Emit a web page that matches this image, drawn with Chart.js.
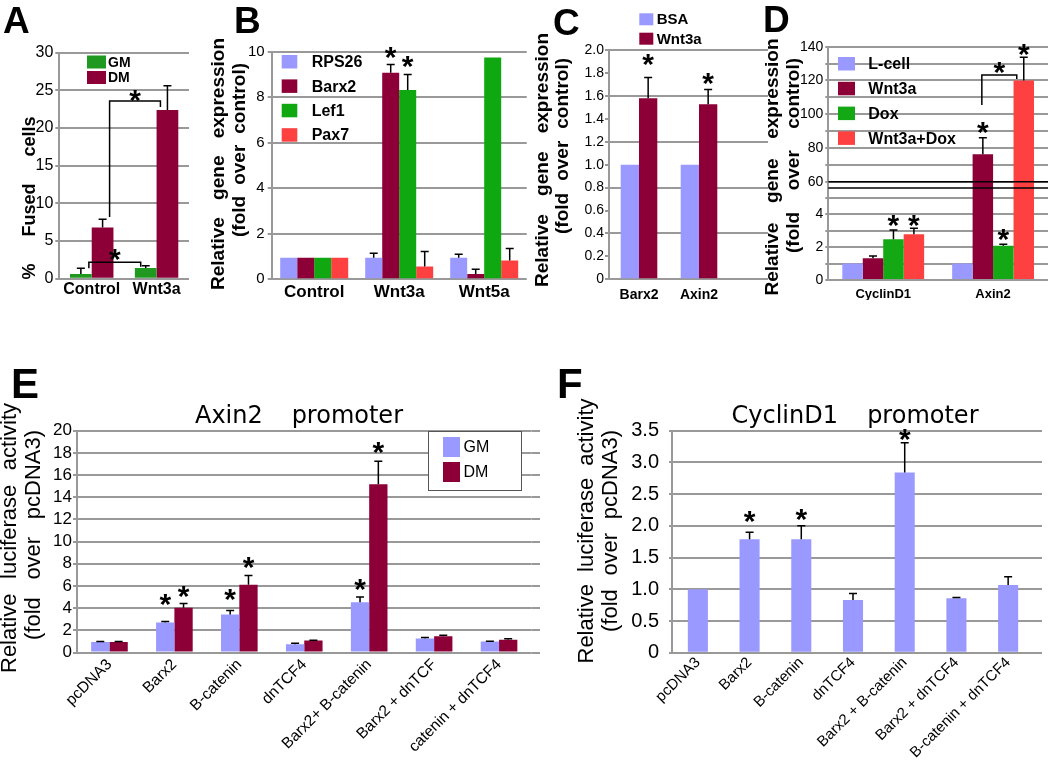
<!DOCTYPE html>
<html>
<head>
<meta charset="utf-8">
<title>Barx2 / Wnt figure</title>
<script src="https://cdn.jsdelivr.net/npm/chart.js@4.4.1/dist/chart.umd.min.js"></script>
<style>
  body { margin: 0; background: #fff; }
  #page { position: relative; width: 1050px; height: 766px; overflow: hidden; background: #fff; }
  #page canvas { position: absolute; left: 0; top: 0; }
</style>
</head>
<body>
<div id="page">
  <canvas id="chartA" width="1050" height="766"></canvas>
  <canvas id="chartB" width="1050" height="766"></canvas>
  <canvas id="chartC" width="1050" height="766"></canvas>
  <canvas id="chartDtop" width="1050" height="766"></canvas>
  <canvas id="chartDbot" width="1050" height="766"></canvas>
  <canvas id="chartE" width="1050" height="766"></canvas>
  <canvas id="chartF" width="1050" height="766"></canvas>
</div>
<script>
// ---- data ----
var aCats = ["Control", "Wnt3a"];
var aGM = [0.62, 1.42], aGMsd = [0.76, 0.3];
var aDM = [6.8, 22.4], aDMsd = [1.1, 3.2];

var bCats = ["Control", "Wnt3a", "Wnt5a"];
var bRPS26 = [0.95, 0.95, 0.95], bRPS26sd = [0, 0.19, 0.15];
var bBarx2 = [0.95, 9.08, 0.23], bBarx2sd = [0, 0.36, 0.21];
var bLef1 = [0.95, 8.32, 9.74], bLef1sd = [0, 0.68, 0.48];
var bPax7 = [0.95, 0.56, 0.83], bPax7sd = [0, 0.66, 0.52];
var bBarx2Star = [null, 9.93, null], bLef1Star = [null, 9.56, null];

var cCats = ["Barx2", "Axin2"];
var cBSA = [1.0, 1.0];
var cWnt3a = [1.58, 1.526], cWnt3aSd = [0.18, 0.13];
var cWnt3aStar = [1.91, 1.75];

var dCats = ["CyclinD1", "Axin2"];
var dLcell = [1.0, 1.0];
var dWnt3a = [1.32, 76.2], dWnt3aSd = [0.14, 9.9];
var dDox = [2.47, 2.07], dDoxSd = [0.57, 0.1];
var dWnt3aDox = [2.78, 120], dWnt3aDoxSd = [0.36, 13.7];
var dWnt3aStar = [null, 91.7], dDoxStar = [3.55, 2.74], dWnt3aDoxStar = [3.55, 138.2];
// broken axis: grid values of the upper and the lower part
var dTopGrid = [60, 70, 80, 90, 100, 110, 120, 130, 140];
var dBotGrid = [0, 1, 2, 3, 4, 5];

var eCats = ["pcDNA3", "Barx2", "B-catenin", "dnTCF4", "Barx2+ B-catenin", "Barx2 + dnTCF", "catenin + dnTCF4"];
var eGM = [0.95, 2.7, 3.42, 0.75, 4.53, 1.26, 0.99];
var eGMsd = [0.04, 0.09, 0.36, 0.08, 0.47, 0.09, 0.03];
var eDM = [0.95, 4.04, 6.1, 1.08, 15.17, 1.47, 1.14];
var eDMsd = [0.04, 0.38, 0.84, 0.03, 2.07, 0.09, 0.09];
var eGMStar = [null, 4.75, 5.2, null, 6.1, null, null];
var eDMStar = [null, 5.5, 8.1, null, 18.4, null, null];

var fCats = ["pcDNA3", "Barx2", "B-catenin", "dnTCF4", "Barx2 + B-catenin", "Barx2 + dnTCF4", "B-catenin + dnTCF4"];
var fVals = [1.0, 1.79, 1.79, 0.83, 2.84, 0.857, 1.067];
var fSd = [0, 0.11, 0.21, 0.105, 0.47, 0.015, 0.13];
var fStar = [null, 2.14, 2.17, null, 3.43, null, null];

// significance brackets: [dataset, category, x shift px, y value]
var aBrackets = [
  { from: [1, 0, 7, 8.2], to: [1, 1, -7, 22.8], top: 23.6, star: 24.3 },
  { from: [0, 0, 8, 1.4], to: [0, 1, -5, 1.6], top: 2.2, star: 3.15 }
];
var dBrackets = [
  { from: [1, 1, -1, 105.5], to: [3, 1, -7, 120.8], top: 123.3, star: 127.3 }
];

// ---- styles ----
var LAV = "#9999ff", MAROON = "#8c0037", RED = "#ff4040";
var GRID = "#999999";
var FONT = "'Liberation Sans', Arial, sans-serif";
var W = 1050, H = 766;
Chart.defaults.font.family = FONT;

var extras = {};

function drawStar(ctx, x, cy) {
  ctx.font = "bold 30px " + FONT;
  ctx.textAlign = "center";
  ctx.textBaseline = "alphabetic";
  ctx.fillStyle = "#000";
  var m = ctx.measureText("*");
  ctx.fillText("*", x, cy + (m.actualBoundingBoxAscent - m.actualBoundingBoxDescent) / 2);
}

var marks = {
  id: "marks",
  beforeDatasetsDraw: function (chart) {
    var o = extras[chart.canvas.id];
    if (!o || !o.gridTo) return;
    var ctx = chart.ctx, ys = chart.scales.y, a = chart.chartArea;
    ctx.save();
    ctx.strokeStyle = GRID;
    ctx.lineWidth = 2;
    ys.ticks.forEach(function (t) {
      if (o.gridEvery && Math.abs(t.value / o.gridEvery - Math.round(t.value / o.gridEvery)) > 1e-6) return;
      var py = Math.round(ys.getPixelForValue(t.value));
      ctx.beginPath();
      ctx.moveTo(a.right, py);
      ctx.lineTo(o.gridTo, py);
      ctx.stroke();
    });
    ctx.restore();
  },
  afterDatasetsDraw: function (chart) {
    var o = extras[chart.canvas.id] || {};
    var ctx = chart.ctx, ys = chart.scales.y, a = chart.chartArea;
    var inRange = function (v) { return v != null && v >= ys.min && v <= ys.max + (ys.max - ys.min) * 0.02; };
    var py = function (v) { return ys.getPixelForValue(v); };
    ctx.save();
    if (o.breakAt != null) {
      ctx.strokeStyle = "#000";
      ctx.lineWidth = 1.5;
      ctx.beginPath();
      ctx.moveTo(a.left, py(o.breakAt));
      ctx.lineTo(a.right, py(o.breakAt));
      ctx.stroke();
    }
    chart.data.datasets.forEach(function (ds, di) {
      chart.getDatasetMeta(di).data.forEach(function (bar, i) {
        var sd = ds.sd ? ds.sd[i] : 0;
        if (sd && inRange(ds.data[i] + sd)) {
          var top = py(ds.data[i] + sd);
          ctx.strokeStyle = "#000";
          ctx.lineWidth = 1.5;
          ctx.beginPath();
          ctx.moveTo(bar.x, bar.y);
          ctx.lineTo(bar.x, top);
          ctx.moveTo(bar.x - 4, top);
          ctx.lineTo(bar.x + 4, top);
          ctx.stroke();
        }
        if (ds.stars && inRange(ds.stars[i])) drawStar(ctx, bar.x, py(ds.stars[i]));
      });
    });
    (o.brackets || []).forEach(function (b) {
      if (!inRange(b.top)) return;
      var x1 = chart.getDatasetMeta(b.from[0]).data[b.from[1]].x + b.from[2];
      var x2 = chart.getDatasetMeta(b.to[0]).data[b.to[1]].x + b.to[2];
      ctx.strokeStyle = "#000";
      ctx.lineWidth = 1.5;
      ctx.beginPath();
      ctx.moveTo(x1, py(b.from[3]));
      ctx.lineTo(x1, py(b.top));
      ctx.lineTo(x2, py(b.top));
      ctx.lineTo(x2, py(b.to[3]));
      ctx.stroke();
      drawStar(ctx, (x1 + x2) / 2, py(b.star));
    });
    var L = o.legend;
    if (L) {
      if (L.frame) {
        ctx.fillStyle = "#fff";
        ctx.fillRect(L.frame[0], L.frame[1], L.frame[2], L.frame[3]);
        ctx.strokeStyle = "#555";
        ctx.lineWidth = 1;
        ctx.strokeRect(L.frame[0] + 0.5, L.frame[1] + 0.5, L.frame[2], L.frame[3]);
      }
      chart.data.datasets.forEach(function (ds, i) {
        var top = L.y + i * L.pitch;
        ctx.fillStyle = ds.backgroundColor;
        ctx.fillRect(L.x, top, L.w, L.h);
        ctx.fillStyle = "#000";
        ctx.font = L.font;
        ctx.textAlign = "left";
        ctx.textBaseline = "middle";
        ctx.fillText(ds.label, L.tx, top + L.h / 2 + 1);
      });
    }
    ctx.restore();
  },
  afterDraw: function (chart) {
    var o = extras[chart.canvas.id];
    if (!o || !o.texts) return;
    var ctx = chart.ctx;
    o.texts.forEach(function (t) {
      ctx.save();
      ctx.font = t.font;
      ctx.fillStyle = "#000";
      ctx.translate(t.x, t.y);
      if (t.rot) ctx.rotate(-Math.PI / 2);
      if (t.span) {
        var words = t.t.split(" ");
        var ws = words.map(function (w) { return ctx.measureText(w).width; });
        var sum = ws.reduce(function (s, v) { return s + v; }, 0);
        var gap = (t.span - sum) / (words.length - 1);
        var x = -t.span / 2;
        ctx.textAlign = "left";
        ctx.textBaseline = t.rot ? "middle" : "alphabetic";
        words.forEach(function (w, i) { ctx.fillText(w, x, 0); x += ws[i] + gap; });
      } else {
        ctx.textAlign = t.align || "left";
        ctx.textBaseline = "alphabetic";
        ctx.fillText(t.t, 0, 0);
      }
      ctx.restore();
    });
  }
};

// area = [left, top, right, bottom] of the plot area on the page
function makeBars(id, area, yw, xh, opt) {
  var yScale = {
    min: opt.min,
    max: opt.max,
    grid: { color: opt.gridColor || GRID, tickColor: GRID, lineWidth: 2, tickLength: opt.tickLen },
    border: { color: GRID, width: 2 },
    ticks: { stepSize: opt.step, autoSkip: false, color: "#000", font: opt.yFont, padding: opt.yPad, callback: opt.fmt },
    afterFit: function (s) { s.width = yw; }
  };
  if (opt.tickValues) {
    yScale.afterBuildTicks = function (s) {
      s.ticks = opt.tickValues.map(function (v) { return { value: v }; });
    };
  }
  return new Chart(document.getElementById(id), {
    type: "bar",
    data: { labels: opt.labels, datasets: opt.sets },
    options: {
      responsive: false,
      animation: false,
      devicePixelRatio: 1,
      events: [],
      layout: { padding: { left: area[0] - yw, top: area[1], right: W - area[2], bottom: H - area[3] - xh } },
      datasets: { bar: { categoryPercentage: opt.catPct, barPercentage: 1, clip: 0 } },
      plugins: { legend: { display: false }, tooltip: { enabled: false } },
      scales: {
        x: {
          display: xh > 0,
          grid: { display: false, drawTicks: false },
          border: { display: false },
          ticks: { color: "#000", font: opt.xFont, padding: opt.xPad || 0, minRotation: opt.xRot || 0, maxRotation: opt.xRot || 0, autoSkip: false },
          afterFit: function (s) { s.height = xh; }
        },
        y: yScale
      }
    },
    plugins: [marks]
  });
}

function plain(v) { return String(v); }
function oneDec(v) { return Math.abs(v) < 1e-9 ? "0" : v.toFixed(1); }

// ---- A ----
extras.chartA = {
  brackets: aBrackets,
  legend: { x: 87, y: 55.5, w: 19, h: 13, pitch: 15.5, tx: 108, font: "bold 14px " + FONT },
  texts: [
    { t: "A", x: 3, y: 33.3, font: "bold 37px " + FONT },
    { t: "% Fused cells", x: 30, y: 198, rot: 1, span: 163, font: "bold 18px " + FONT }
  ]
};
makeBars("chartA", [59.3, 52.7, 189, 278.7], 40, 20, {
  labels: aCats,
  sets: [
    { label: "GM", data: aGM, sd: aGMsd, backgroundColor: "#1f991f" },
    { label: "DM", data: aDM, sd: aDMsd, backgroundColor: MAROON }
  ],
  catPct: 0.67, min: 0, max: 30, step: 5, tickLen: 4, yPad: 2,
  yFont: { size: 16 }, xFont: { size: 16, weight: "bold" }, xPad: 1, fmt: plain
});

// ---- B ----
extras.chartB = {
  legend: { x: 281.7, y: 55, w: 15.6, h: 13.5, pitch: 24.4, tx: 311.7, font: "bold 16px " + FONT },
  texts: [
    { t: "B", x: 234, y: 33, font: "bold 37px " + FONT },
    { t: "Relative gene expression", x: 219, y: 164, rot: 1, span: 252, font: "bold 19px " + FONT },
    { t: "(fold over control)", x: 240, y: 150, rot: 1, span: 174, font: "bold 19px " + FONT }
  ]
};
makeBars("chartB", [271.7, 51.7, 526.7, 279.3], 40, 20, {
  labels: bCats,
  sets: [
    { label: "RPS26", data: bRPS26, sd: bRPS26sd, backgroundColor: LAV },
    { label: "Barx2", data: bBarx2, sd: bBarx2sd, stars: bBarx2Star, backgroundColor: MAROON },
    { label: "Lef1", data: bLef1, sd: bLef1sd, stars: bLef1Star, backgroundColor: "#10a810" },
    { label: "Pax7", data: bPax7, sd: bPax7sd, backgroundColor: RED }
  ],
  catPct: 0.8, min: 0, max: 10, step: 2, tickLen: 4, yPad: 3,
  yFont: { size: 15 }, xFont: { size: 17, weight: "bold" }, xPad: 3, fmt: plain
});

// ---- C ----
extras.chartC = {
  gridTo: 768, gridEvery: 0.4,
  legend: { x: 639.3, y: 13.3, w: 14, h: 12, pitch: 19.4, tx: 656.7, font: "bold 15px " + FONT },
  texts: [
    { t: "C", x: 553, y: 34.5, font: "bold 37px " + FONT },
    { t: "Relative gene expression", x: 543, y: 160, rot: 1, span: 254, font: "bold 19px " + FONT },
    { t: "(fold over control)", x: 563, y: 146, rot: 1, span: 176, font: "bold 19px " + FONT }
  ]
};
makeBars("chartC", [609, 50, 729, 279.3], 40, 20, {
  labels: cCats,
  sets: [
    { label: "BSA", data: cBSA, backgroundColor: LAV },
    { label: "Wnt3a", data: cWnt3a, sd: cWnt3aSd, stars: cWnt3aStar, backgroundColor: MAROON }
  ],
  catPct: 0.61, min: 0, max: 2, step: 0.2, tickLen: 4, yPad: 1,
  gridColor: function (c) { return c.tick && Math.round(c.tick.value * 10) % 4 === 0 ? GRID : "rgba(0,0,0,0)"; },
  yFont: { size: 14 }, xFont: { size: 14, weight: "bold" }, xPad: 7, fmt: oneDec
});

// ---- D (broken axis: upper and lower part) ----
var dSets = function () {
  return [
    { label: "L-cell", data: dLcell, backgroundColor: LAV },
    { label: "Wnt3a", data: dWnt3a, sd: dWnt3aSd, stars: dWnt3aStar, backgroundColor: MAROON },
    { label: "Dox", data: dDox, sd: dDoxSd, stars: dDoxStar, backgroundColor: "#14a814" },
    { label: "Wnt3a+Dox", data: dWnt3aDox, sd: dWnt3aDoxSd, stars: dWnt3aDoxStar, backgroundColor: RED }
  ];
};
extras.chartDtop = {
  breakAt: 60,
  brackets: dBrackets,
  legend: { x: 838, y: 57, w: 17, h: 13.5, pitch: 24.8, tx: 868.3, font: "bold 16px " + FONT },
  texts: [
    { t: "D", x: 763, y: 32, font: "bold 37px " + FONT },
    { t: "Relative gene expression", x: 773, y: 167, rot: 1, span: 257, font: "bold 19px " + FONT },
    { t: "(fold over control)", x: 794, y: 155.5, rot: 1, span: 195, font: "bold 19px " + FONT }
  ]
};
makeBars("chartDtop", [828.3, 46.7, 1048, 188], 40, 0, {
  labels: dCats, sets: dSets(),
  catPct: 0.745, min: 56.27, max: 140, step: 10, tickLen: 3, yPad: 2,
  tickValues: dTopGrid,
  yFont: { size: 14 }, fmt: function (v) { return v % 20 === 0 ? String(v) : ""; }
});
extras.chartDbot = { breakAt: 5.58 };
makeBars("chartDbot", [828.3, 188, 1048, 280], 40, 20, {
  labels: dCats, sets: dSets(),
  catPct: 0.745, min: 0, max: 5.58, step: 1, tickLen: 3, yPad: 2,
  tickValues: dBotGrid,
  yFont: { size: 14 }, xFont: { size: 13, weight: "bold" }, xPad: 7,
  fmt: function (v) { return v % 2 === 0 ? String(v) : ""; }
});

// ---- E ----
extras.chartE = {
  gridTo: 540,
  legend: { x: 443, y: 437, w: 17, h: 20, pitch: 25, tx: 463.5, font: "16px " + FONT, frame: [428, 431, 93, 59] },
  texts: [
    { t: "E", x: 11, y: 398, font: "bold 42px " + FONT },
    { t: "Axin2 promoter", x: 299, y: 422.7, span: 208, font: "24px 'DejaVu Sans'" },
    { t: "Relative luciferase activity", x: 10, y: 538, rot: 1, span: 270, font: "22px " + FONT },
    { t: "(fold over pcDNA3)", x: 34, y: 535, rot: 1, span: 210, font: "22px " + FONT }
  ]
};
makeBars("chartE", [77, 430.7, 531.5, 652.5], 40, 110, {
  labels: eCats,
  sets: [
    { label: "GM", data: eGM, sd: eGMsd, stars: eGMStar, backgroundColor: LAV },
    { label: "DM", data: eDM, sd: eDMsd, stars: eDMStar, backgroundColor: MAROON }
  ],
  catPct: 0.564, min: 0, max: 20, step: 2, tickLen: 4, yPad: 1,
  yFont: { size: 17 }, xFont: { size: 15.5 }, xPad: 3, xRot: 45, fmt: plain
});

// ---- F ----
extras.chartF = {
  gridTo: 1042,
  texts: [
    { t: "F", x: 557, y: 398, font: "bold 42px " + FONT },
    { t: "CyclinD1 promoter", x: 855, y: 422.7, span: 247, font: "24px 'DejaVu Sans'" },
    { t: "Relative luciferase activity", x: 587, y: 531, rot: 1, span: 265, font: "22px " + FONT },
    { t: "(fold over pcDNA3)", x: 611, y: 531, rot: 1, span: 202, font: "22px " + FONT }
  ]
};
makeBars("chartF", [672, 430.7, 1034, 652.7], 60, 110, {
  labels: fCats,
  sets: [
    { label: "Luciferase", data: fVals, sd: fSd, stars: fStar, backgroundColor: LAV }
  ],
  catPct: 0.388, min: 0, max: 3.5, step: 0.5, tickLen: 3, yPad: 10,
  yFont: { size: 20 }, xFont: { size: 15 }, xPad: 1, xRot: 45, fmt: oneDec
});
</script>
</body>
</html>
